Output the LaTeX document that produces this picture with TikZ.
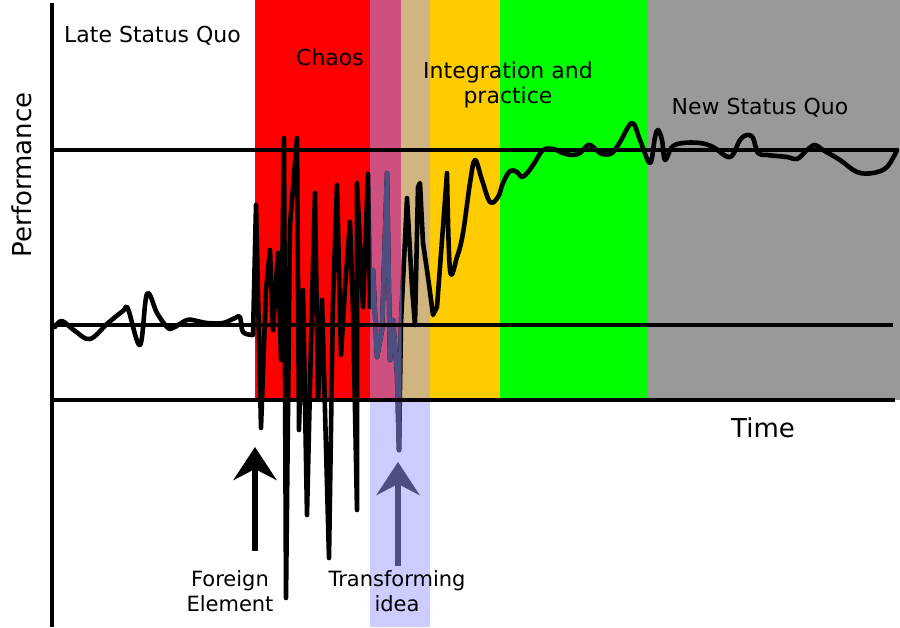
\documentclass[tikz,border=0pt]{standalone}
\usepackage{fontspec}
\setmainfont{DejaVu Sans}
\usetikzlibrary{arrows.meta}
\definecolor{cRed}{RGB}{255,0,0}
\definecolor{cPink}{RGB}{205,80,128}
\definecolor{cTan}{RGB}{208,181,128}
\definecolor{cYellow}{RGB}{255,204,0}
\definecolor{cGreen}{RGB}{0,255,0}
\definecolor{cGray}{RGB}{153,153,153}
\definecolor{cLightBlue}{RGB}{204,204,255}
\definecolor{cBlueGray}{RGB}{78,78,128}
\tikzset{
  band/.style={fill=#1, draw=none},
  axisline/.style={line width=3.2pt, draw=black},
  perfline/.style={line width=4.6pt, line join=round, line cap=round},
  label/.style={font=\fontsize{22}{25}\selectfont, inner sep=0pt, align=center, text=black},
  biglabel/.style={font=\fontsize{26}{30}\selectfont, inner sep=0pt, text=black},
  botlabel/.style={font=\fontsize{21}{25}\selectfont, inner sep=0pt, align=center, text=black},
  eventarrow/.style={line width=6.5pt, -{Stealth[length=33pt,width=43pt,inset=11pt]}}
}
\def\perfcurve{
  plot[smooth, tension=0.6] coordinates {(55,327) (62,321) (75,331) (90,339) (108,323) (123,311) (128,309) (140,345) (147,294) (157,313) (167,327) (173,328) (187,320) (197,321) (207,323) (223,323) (235,318) (240,317) (243,332) (253,335)}
  -- (256,205) -- (261,428) -- (266,290) -- (270,250) -- (273,330) -- (278,253) -- (281,360)
  -- (284,138) -- (286,598) -- (290,225) -- (297,138) -- (299,430) -- (303,290) -- (307,515)
  -- (312,300) -- (315,193) -- (318,400) -- (322,300) -- (329,558) -- (333,300) -- (337,185)
  -- (341,355) -- (345,288) -- (350,222) -- (353,310) -- (357,510) -- (357,183) -- (363,307)
  -- (368,174) -- (370,307) -- (373,270) -- (377,357) -- (382,330) -- (387,173) -- (390,360)
  -- (393,320) -- (397,373) -- (399,450) -- (401,323) -- (407,198) -- (412,287) -- (415,325)
  -- (418,187) -- (420,183) -- (423,243) -- (428,277) -- (433,315) -- (437,307) -- (443,227) -- (447,173)
  -- plot[smooth, tension=0.6] coordinates {(447,173) (450,270) (457,257) (463,233) (470,183) (475,160) (482,180) (490,202) (498,197) (503,183) (510,171) (517,172) (522,177) (528,172) (535,162) (543,150) (553,149) (563,153) (572,155) (580,153) (588,145) (593,147) (602,154) (612,153) (620,142) (632,123) (640,140) (650,163) (655,137) (658,130) (662,140) (665,160) (672,147) (683,143) (700,143) (713,147) (730,157) (740,140) (747,135) (753,138) (758,153) (767,155) (787,157) (797,159) (807,150) (815,145) (823,150) (840,160) (857,172) (873,173) (887,167) (897,150)}
}
\begin{document}
\begin{tikzpicture}[x=1pt, y=-1pt]
\useasboundingbox (0,0) rectangle (900,627);
\fill[white] (0,0) rectangle (900,627);
% phase bands
\fill[band=cRed] (255,0) rectangle (370,400);
\fill[band=cPink] (370,0) rectangle (401,400);
\fill[band=cTan] (401,0) rectangle (430,400);
\fill[band=cYellow] (430,0) rectangle (500,400);
\fill[band=cGreen] (500,0) rectangle (648,400);
\fill[band=cGray] (648,0) rectangle (900,400);
\fill[band=cLightBlue] (370,400) rectangle (430,627);
% performance curve
\draw[perfline, draw=black] \perfcurve;
\begin{scope}
  \clip (370.5,0) rectangle (401.5,627);
  \draw[perfline, draw=cBlueGray] \perfcurve;
\end{scope}
% axes and reference lines
\coordinate (axTop) at (52,3);
\coordinate (axBot) at (52,627);
\coordinate (hiL) at (52,150);
\coordinate (hiR) at (897,150);
\coordinate (midL) at (52,325);
\coordinate (midR) at (893,325);
\coordinate (loL) at (52,400);
\coordinate (loR) at (895,400);
\draw[axisline] (axTop) -- (axBot);
\draw[axisline] (hiL) -- (hiR);
\draw[axisline] (midL) -- (midR);
\draw[axisline] (loL) -- (loR);
% event arrows
\coordinate (feStart) at (255,551);
\coordinate (feTip) at (255,447);
\coordinate (tiStart) at (398,566);
\coordinate (tiTip) at (398,462);
\draw[eventarrow, draw=black, fill=black] (feStart) -- (feTip);
\draw[eventarrow, draw=cBlueGray, fill=cBlueGray] (tiStart) -- (tiTip);
% labels
\node[label, anchor=base west] (late) at (64,42) {Late Status Quo};
\node[label, anchor=base] (chaos) at (330,65) {Chaos};
\node[label, anchor=base] (integ) at (508,103) {Integration and\\practice};
\node[label, anchor=base] (newsq) at (760,114) {New Status Quo};
\node[biglabel, rotate=90, anchor=center] (perf) at (22,175) {Performance};
\node[biglabel, anchor=base] (time) at (763,437) {Time};
\node[botlabel, anchor=base] (fe) at (230,611) {Foreign\\Element};
\node[botlabel, anchor=base] (ti) at (397,611) {Transforming\\idea};
\end{tikzpicture}
\end{document}
